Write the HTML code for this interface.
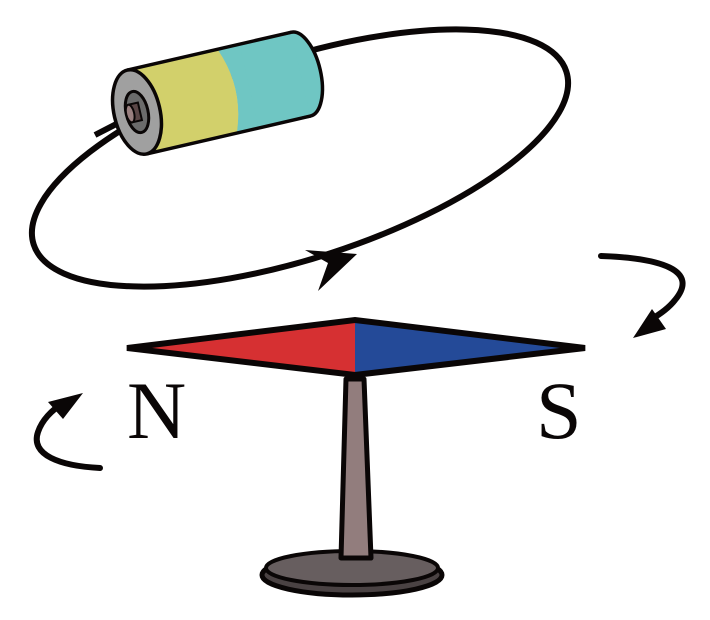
<!DOCTYPE html>
<html><head><meta charset="utf-8"><style>html,body{margin:0;padding:0;background:#fff}svg{display:block}</style></head>
<body>
<svg width="710" height="620" viewBox="0 0 710 620" xmlns="http://www.w3.org/2000/svg">
<ellipse cx="300" cy="158" rx="280" ry="100" transform="rotate(-18 300 158)" fill="none" stroke="#0a0606" stroke-width="6"/>
<polygon points="357,254 305,250 328,263 318,291" fill="#0a0606"/>
<line x1="130" y1="117" x2="95" y2="135" stroke="#0a0606" stroke-width="6"/>
<g transform="rotate(-13 137 112)">
  <path d="M137,69 L230,69 Q246,112 230,155 L137,155 Z" fill="#d2d06b"/>
  <path d="M230,69 L305,69 L305,155 L230,155 Q246,112 230,69 Z" fill="#6fc6c3"/>
  <ellipse cx="305" cy="112" rx="20" ry="43" fill="#6fc6c3" stroke="#0a0606" stroke-width="3.5"/>
  <rect x="250" y="70.5" width="55" height="83" fill="#6fc6c3"/>
  <path d="M230,70.5 Q246,112 230,153.5 L252,153.5 L252,70.5 Z" fill="#6fc6c3"/>
  <path d="M230,70.5 Q246,112 230,153.5 L200,153.5 L200,70.5 Z" fill="#d2d06b"/>
  <line x1="137" y1="69" x2="305" y2="69" stroke="#0a0606" stroke-width="3.5"/>
  <line x1="137" y1="155" x2="305" y2="155" stroke="#0a0606" stroke-width="3.5"/>
  <ellipse cx="137" cy="112" rx="23" ry="43" fill="#a0a0a0" stroke="#0a0606" stroke-width="3.5"/>
  <ellipse cx="137" cy="112" rx="11" ry="21" fill="#6b6b6b" stroke="#0a0606" stroke-width="3"/>
  <rect x="130" y="103" width="10" height="18" fill="#5a4646" stroke="#0a0606" stroke-width="2"/>
  <ellipse cx="130" cy="112" rx="4" ry="9" fill="#9a8080" stroke="#0a0606" stroke-width="2"/>
</g>
<polygon points="127,348 355,320 355,375" fill="#d63032"/>
<polygon points="585,348 355,320 355,375" fill="#244a98"/>
<polygon points="127,348 355,320 585,348 355,375" fill="none" stroke="#0a0606" stroke-width="6" stroke-linejoin="miter"/>
<ellipse cx="352" cy="575" rx="90" ry="20" fill="#4a4243" stroke="#0a0606" stroke-width="5"/>
<ellipse cx="352" cy="568" rx="86" ry="17" fill="#675e5f" stroke="#0a0606" stroke-width="4"/>
<polygon points="346,379 364,379 371,558 341,558" fill="#927d7d" stroke="#0a0606" stroke-width="5" stroke-linejoin="round"/>
<text x="127" y="438" font-family="'Liberation Serif', serif" font-size="82" fill="#0a0606">N</text>
<text x="536" y="438" font-family="'Liberation Serif', serif" font-size="82" fill="#0a0606">S</text>
<path d="M601,256 C660,258 700,270 675,300 C668,309 657,316 650,320" fill="none" stroke="#0a0606" stroke-width="6" stroke-linecap="round"/>
<polygon points="633,338 652,309 666,329" fill="#0a0606"/>
<path d="M100,468 C60,466 30,455 38,432 C42,420 52,410 62,404" fill="none" stroke="#0a0606" stroke-width="6" stroke-linecap="round"/>
<polygon points="83,393 48,402 63,419" fill="#0a0606"/>
</svg>
</body></html>
